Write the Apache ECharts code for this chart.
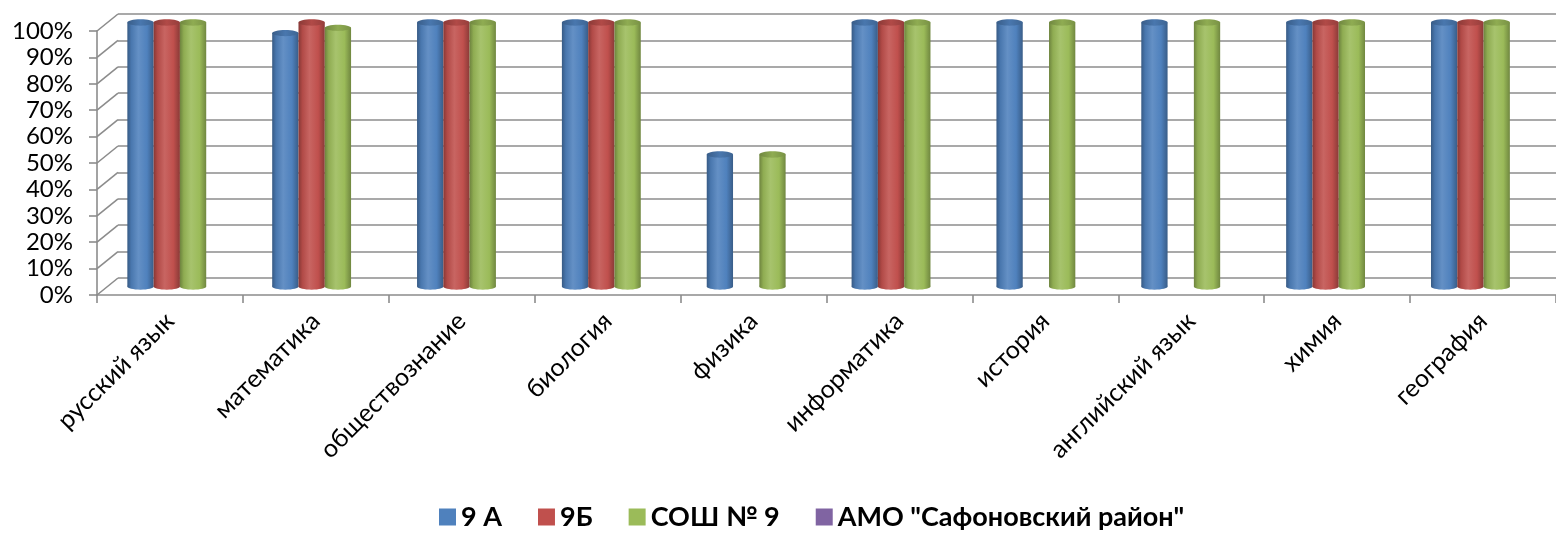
<!DOCTYPE html>
<html>
<head>
<meta charset="utf-8">
<script src="https://cdn.jsdelivr.net/npm/echarts@6/dist/echarts.min.js"></script>
<style>
html,body{margin:0;padding:0;background:#fff;}
#chart{width:1556px;height:534px;}
</style>
</head>
<body>
<div id="chart"></div>
<script>
// ---- data ----
var categories = ["русский язык","математика","обществознание","биология","физика","информатика","история","английский язык","химия","география"];
var legendNames = ["9 A","9Б","СОШ № 9","АМО \"Сафоновский район\""];
var values9A  = [100, 96, 100, 100, 50, 100, 100, 100, 100, 100];
var values9B  = [100, 100, 100, 100, null, 100, null, null, 100, 100];
var valuesSOSH = [100, 98, 100, 100, 50, 100, 100, 100, 100, 100];
var valuesAMO = [null, null, null, null, null, null, null, null, null, null];
var yTicks = [0,10,20,30,40,50,60,70,80,90,100];

// ---- layout / style ----
var colors = ["#4F81BD","#C0504D","#9BBB59","#8064A2"];
var FONT = "Lato";
var DX = 21, DY = 17;          // depth offset (front -> back)
var GL = 97, GT = 31, GW = 1460, GH = 264;
var GAP = 0.274;               // category gap fraction
var NSLOTS = 4;
var gridColor = "#8c8c8c";

function shade(hex, f){
  var n = parseInt(hex.slice(1),16);
  var r=(n>>16)&255,g=(n>>8)&255,b=n&255;
  function c(v){ return Math.max(0,Math.min(255,Math.round(f<0 ? v*(1+f) : v+(255-v)*f))); }
  return "rgb("+c(r)+","+c(g)+","+c(b)+")";
}

function makeRender(slot, color){
  return function(params, api){
    var cat = api.value(0), val = api.value(1);
    var base = api.coord([cat, 0]);
    var top = api.coord([cat, val]);
    var bandW = api.size([1,0])[0];
    var w = bandW*(1-GAP)/NSLOTS;
    var x = base[0] - w*NSLOTS/2 + slot*w;
    var rx = w/2, ry = w*0.12;
    var grad = new echarts.graphic.LinearGradient(0,0,1,0,[
      {offset:0, color:shade(color,-0.3)},
      {offset:0.15, color:shade(color,-0.08)},
      {offset:0.42, color:shade(color,0.12)},
      {offset:0.75, color:shade(color,0.0)},
      {offset:1, color:shade(color,-0.28)}
    ]);
    var topGrad = new echarts.graphic.LinearGradient(0,0,1,0,[
      {offset:0, color:shade(color,-0.28)},
      {offset:0.5, color:shade(color,-0.08)},
      {offset:1, color:shade(color,-0.22)}
    ]);
    return {type:'group', children:[
      {type:'ellipse', shape:{cx:x+rx, cy:base[1], rx:rx, ry:ry}, style:{fill:grad}},
      {type:'rect', shape:{x:x, y:top[1], width:w, height:base[1]-top[1]}, style:{fill:grad}},
      {type:'ellipse', shape:{cx:x+rx, cy:top[1], rx:rx, ry:ry}, style:{fill:topGrad}}
    ]};
  };
}

function toData(arr){
  var out=[];
  arr.forEach(function(v,i){ if(v!=null) out.push([i,v]); });
  return out;
}

var allValues = [values9A, values9B, valuesSOSH, valuesAMO];

var series = allValues.map(function(arr, k){
  return {
    type:'custom', name: legendNames[k],
    xAxisIndex:1, yAxisIndex:1,
    renderItem: makeRender(k, colors[k]),
    itemStyle:{color:colors[k]},
    encode:{x:0,y:1},
    clip:false,
    data: toData(arr),
    z:5
  };
});

// side wall diagonals (from front ticks to back wall)
series.push({
  type:'custom', xAxisIndex:2, yAxisIndex:2, silent:true, clip:false, z:3,
  renderItem:function(params, api){
    var v = api.value(1);
    var p = api.coord([0, v]);
    var x0 = params.coordSys.x;
    return {type:'line', shape:{x1:x0, y1:p[1], x2:x0+DX, y2:p[1]-DY},
      style:{stroke:gridColor, lineWidth:1.6}};
  },
  data: yTicks.map(function(t){ return [0,t]; }),
  encode:{x:0,y:1}
});

var option = {
  backgroundColor:'#fff',
  animation:false,
  legend:{
    data: legendNames,
    left: 434, top: 497,
    icon:'rect', itemWidth:17, itemHeight:17, itemGap:36,
    textStyle:{fontFamily:FONT, fontSize:27, fontWeight:'bold', color:'#000', lineHeight:30}
  },
  grid:[
    {left:GL+DX, top:GT-DY, width:GW, height:GH},
    {left:GL+DX/2, top:GT-DY/2, width:GW, height:GH},
    {left:GL, top:GT, width:GW, height:GH}
  ],
  xAxis:[
    {type:'category', gridIndex:0, data:categories, show:false},
    {type:'category', gridIndex:1, data:categories, show:false},
    {type:'category', gridIndex:2, data:categories,
      axisLine:{show:true, lineStyle:{color:gridColor, width:1.6}},
      axisTick:{show:true, length:8, lineStyle:{color:gridColor, width:1.6}},
      axisLabel:{rotate:45, margin:22, fontFamily:FONT, fontSize:25, color:'#000', interval:0}
    }
  ],
  yAxis:[
    {type:'value', gridIndex:0, min:0, max:100, interval:10,
      axisLine:{show:false}, axisTick:{show:false}, axisLabel:{show:false},
      splitLine:{show:true, lineStyle:{color:gridColor, width:1.6}}},
    {type:'value', gridIndex:1, min:0, max:100, interval:10, show:false, splitLine:{show:false}},
    {type:'value', gridIndex:2, min:0, max:100, interval:10,
      axisLine:{show:true, lineStyle:{color:gridColor, width:1.6}},
      axisTick:{show:true, length:8, lineStyle:{color:gridColor, width:1.6}},
      splitLine:{show:false},
      axisLabel:{formatter:'{value}%', margin:24, fontFamily:FONT, fontSize:24, color:'#000'}
    }
  ],
  series: series
};

var chart = echarts.init(document.getElementById('chart'), null, {renderer:'canvas'});
chart.setOption(option);
</script>
</body>
</html>
